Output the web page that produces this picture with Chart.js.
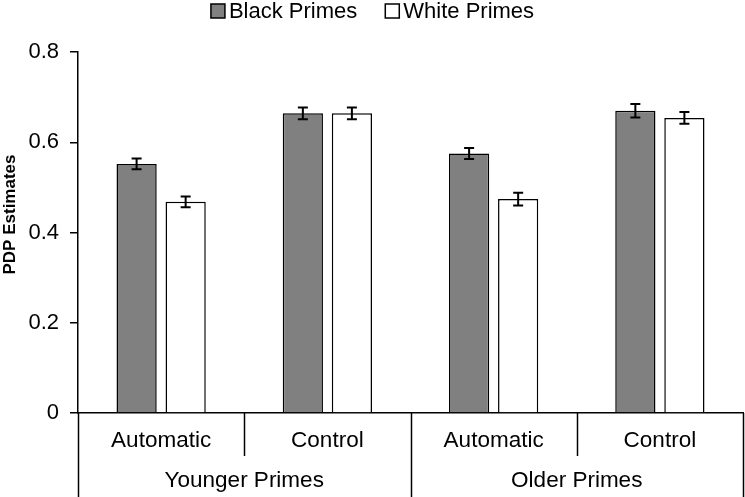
<!DOCTYPE html>
<html>
<head>
<meta charset="utf-8">
<script src="https://cdn.jsdelivr.net/npm/chart.js@4/dist/chart.umd.min.js"></script>
<style>
  html, body { margin: 0; padding: 0; background: #fff; }
  #wrap { width: 745px; height: 497px; }
</style>
</head>
<body>
<div id="wrap"><canvas id="chart"></canvas></div>
<script>
// chart data
const conditions = ['Automatic', 'Control', 'Automatic', 'Control'];
const groups = ['Younger Primes', 'Older Primes'];
const blackPrimes = [0.552, 0.664, 0.575, 0.670];
const whitePrimes = [0.468, 0.664, 0.474, 0.654];
const blackErr = [0.012, 0.013, 0.012, 0.015];
const whiteErr = [0.012, 0.013, 0.014, 0.013];
const yTicks = [0, 0.2, 0.4, 0.6, 0.8];
const yTitle = 'PDP Estimates';

const FONT = 'Arial, "Liberation Sans", sans-serif';

// error bars drawn on top of each bar
const errorBars = {
  id: 'errorBars',
  afterDatasetsDraw(chart) {
    const ctx = chart.ctx;
    const y = chart.scales.y;
    const errs = [blackErr, whiteErr];
    ctx.save();
    ctx.strokeStyle = '#000';
    ctx.lineWidth = 2;
    chart.data.datasets.forEach((ds, i) => {
      chart.getDatasetMeta(i).data.forEach((bar, j) => {
        const v = ds.data[j];
        const top = y.getPixelForValue(v + errs[i][j]);
        const bot = y.getPixelForValue(v - errs[i][j]);
        ctx.beginPath();
        ctx.moveTo(bar.x, top); ctx.lineTo(bar.x, bot);
        ctx.moveTo(bar.x - 5, top); ctx.lineTo(bar.x + 5, top);
        ctx.moveTo(bar.x - 5, bot); ctx.lineTo(bar.x + 5, bot);
        ctx.stroke();
      });
    });
    ctx.restore();
  }
};

// legend in the Excel style: small box, text close to it
const topLegend = {
  id: 'topLegend',
  afterDraw(chart) {
    const ctx = chart.ctx;
    const sets = chart.data.datasets;
    const box = 14, gapText = 4, gapItem = 28;
    ctx.save();
    ctx.font = '22px ' + FONT;
    ctx.textBaseline = 'middle';
    const widths = sets.map(ds => box + gapText + ctx.measureText(ds.label).width);
    const total = widths.reduce((a, b) => a + b, 0) + gapItem * (sets.length - 1);
    let x = chart.width / 2 - total / 2;
    sets.forEach((ds, i) => {
      ctx.fillStyle = ds.backgroundColor;
      ctx.fillRect(x, 4, box, box);
      ctx.strokeStyle = '#000';
      ctx.lineWidth = 1.5;
      ctx.strokeRect(x, 4, box, box);
      ctx.fillStyle = '#000';
      ctx.fillText(ds.label, x + box + gapText, 12);
      x += widths[i] + gapItem;
    });
    ctx.restore();
  }
};

// y title sits a bit above the middle of the plot, as in the original
const yAxisTitle = {
  id: 'yAxisTitle',
  afterDraw(chart) {
    const ctx = chart.ctx;
    const area = chart.chartArea;
    ctx.save();
    ctx.translate(10, (area.top + area.bottom) / 2 - 18);
    ctx.rotate(-Math.PI / 2);
    ctx.font = 'bold 17px ' + FONT;
    ctx.fillStyle = '#000';
    ctx.textAlign = 'center';
    ctx.textBaseline = 'middle';
    ctx.fillText(yTitle, 0, 0);
    ctx.restore();
  }
};

// two-level category axis under the plot
const groupAxis = {
  id: 'groupAxis',
  afterDraw(chart) {
    const ctx = chart.ctx;
    const x = chart.scales.x;
    const area = chart.chartArea;
    const bottom = chart.height;
    const n = conditions.length;
    const step = (area.right - area.left) / n;
    ctx.save();
    ctx.strokeStyle = '#000';
    ctx.lineWidth = 1.5;
    ctx.fillStyle = '#000';
    ctx.font = '22.5px ' + FONT;
    ctx.textAlign = 'center';
    ctx.textBaseline = 'middle';
    for (let i = 0; i <= n; i++) {
      const px = Math.round(area.left + i * step) + 0.5;
      const full = i % 2 === 0;
      ctx.beginPath();
      ctx.moveTo(px, area.bottom);
      ctx.lineTo(px, full ? bottom : area.bottom + 43);
      ctx.stroke();
    }
    conditions.forEach((c, i) => {
      ctx.fillText(c, x.getPixelForValue(i), area.bottom + 28);
    });
    groups.forEach((g, i) => {
      ctx.fillText(g, area.left + (2 * i + 1) * step, area.bottom + 68);
    });
    ctx.restore();
  }
};

new Chart(document.getElementById('chart'), {
  type: 'bar',
  data: {
    labels: conditions,
    datasets: [
      {
        label: 'Black Primes',
        data: blackPrimes,
        backgroundColor: '#808080',
        borderColor: '#000',
        borderWidth: 1.5
      },
      {
        label: 'White Primes',
        data: whitePrimes,
        backgroundColor: '#ffffff',
        borderColor: '#000',
        borderWidth: 1.5
      }
    ]
  },
  options: {
    responsive: true,
    maintainAspectRatio: false,
    animation: false,
    categoryPercentage: 0.59,
    barPercentage: 0.82,
    layout: { padding: { top: 52, right: 2, left: 0, bottom: 0 } },
    plugins: {
      legend: { display: false },
      tooltip: { enabled: false }
    },
    scales: {
      x: {
        grid: { display: false },
        border: { display: true, color: '#000', width: 1.5 },
        ticks: { display: false },
        afterFit(scale) { scale.height = 84; }
      },
      y: {
        min: 0,
        max: 0.8,
        afterBuildTicks(scale) { scale.ticks = yTicks.map(v => ({ value: v })); },
        grid: { drawOnChartArea: false, color: '#000', tickLength: 8, lineWidth: 1.5 },
        border: { display: true, color: '#000', width: 1.5 },
        ticks: {
          color: '#000',
          padding: 11,
          font: { family: FONT, size: 22 },
          callback: v => String(v)
        },
        afterFit(scale) { scale.width = 78; }
      }
    }
  },
  plugins: [errorBars, groupAxis, topLegend, yAxisTitle]
});
</script>
</body>
</html>
